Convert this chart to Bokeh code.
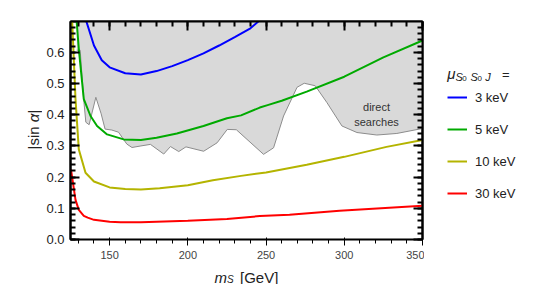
import math
from bokeh.plotting import figure
from bokeh.layouts import row, column
from bokeh.models import (Range1d, LinearAxis, SingleIntervalTicker, PrintfTickFormatter,
                          CustomJSTickFormatter, Legend, LegendItem, Label)
from bokeh.embed import file_html
from bokeh.resources import INLINE

# ---------------- data ----------------
ms_3kev = [134.6, 140, 145, 150, 160, 170, 180, 190, 200, 210, 220, 230, 240, 248]
sa_3kev = [0.708, 0.622, 0.575, 0.552, 0.533, 0.529, 0.540, 0.556, 0.575, 0.597, 0.622, 0.649, 0.677, 0.712]

ms_5kev = [128.8, 130.3, 133.5, 137.8, 142, 148.4, 159, 170, 180, 193, 210, 225, 234, 246, 251, 260, 276, 300, 325, 350]
sa_5kev = [0.708, 0.611, 0.45, 0.396, 0.364, 0.337, 0.321, 0.319, 0.326, 0.340, 0.364, 0.389, 0.398, 0.423, 0.431, 0.445, 0.474, 0.522, 0.584, 0.638]

ms_10kev = [126, 128.2, 130.3, 134.6, 140, 150, 160, 170, 182, 200, 216, 234, 250, 276, 300, 327, 350]
sa_10kev = [0.708, 0.45, 0.289, 0.214, 0.186, 0.167, 0.162, 0.160, 0.164, 0.174, 0.190, 0.204, 0.215, 0.240, 0.265, 0.297, 0.319]

ms_30kev = [125.3, 128.2, 130.3, 133.5, 136, 140, 145, 150, 157, 170, 200, 225, 246, 265, 297, 350]
sa_30kev = [0.225, 0.127, 0.095, 0.076, 0.070, 0.063, 0.060, 0.057, 0.055, 0.055, 0.060, 0.066, 0.075, 0.079, 0.092, 0.108]

# lower edge of the "direct searches" excluded region
ms_direct = [129.0, 129.0, 131.2, 133.3, 134.8, 136.9, 141.2, 144.6, 147.1, 151.4, 155.7, 161.0, 164.3,
             170.0, 176.1, 184.6, 188.9, 194.2, 198.8, 210.1, 218.7, 225.2, 231.0, 248.4, 254.8,
             261.2, 269.8, 274.4, 281.4, 288.9, 298.5, 308.1, 320.8, 333.6, 350.0]
sa_direct = [0.72, 0.607, 0.607, 0.456, 0.376, 0.368, 0.456, 0.403, 0.354, 0.351, 0.344, 0.306, 0.295,
             0.300, 0.305, 0.274, 0.298, 0.282, 0.297, 0.283, 0.310, 0.353, 0.352, 0.273, 0.294,
             0.396, 0.488, 0.501, 0.493, 0.439, 0.364, 0.343, 0.335, 0.340, 0.356]

labels = ["3 keV", "5 keV", "10 keV", "30 keV"]
colors = ["#0000ff", "#00aa00", "#b4b400", "#ff0000"]
series_x = [ms_3kev, ms_5kev, ms_10kev, ms_30kev]
series_y = [sa_3kev, sa_5kev, sa_10kev, sa_30kev]

X0, X1 = 125, 350
Y0, Y1 = 0.0, 0.699

FONT = "Liberation Sans"
TXT = "#222222"

# ---------------- page layout (pixels) ----------------
PAGE_W, PAGE_H = 548, 284
YL_W = 42           # strip holding the y-axis title
LEG_W = 124         # strip holding the legend
TOP_H = 261         # height of the upper row
XL_H = PAGE_H - TOP_H
FRAME_L, FRAME_R, FRAME_T, FRAME_B = 70, 422, 21, 239

P_W = PAGE_W - YL_W - LEG_W
ML = FRAME_L - YL_W
MR = P_W - (FRAME_R - YL_W)
MT = FRAME_T
MB = TOP_H - FRAME_B


def bare(w, h, xr, yr):
    f = figure(width=w, height=h, output_backend="svg", toolbar_location=None,
               x_range=Range1d(*xr), y_range=Range1d(*yr),
               min_border=0, outline_line_color=None, frame_align=False)
    f.axis.visible = False
    f.grid.visible = False
    return f


# ---------------- main plot ----------------
p = figure(width=P_W, height=TOP_H, output_backend="svg", toolbar_location=None,
           x_range=Range1d(X0, X1), y_range=Range1d(Y0, Y1),
           min_border_left=ML, min_border_right=MR, min_border_top=MT, min_border_bottom=MB,
           background_fill_color="white", border_fill_color="white", frame_align=False)
p.xgrid.visible = False
p.ygrid.visible = False
p.outline_line_color = "black"
p.outline_line_width = 2


def px(page_x):
    return X0 + (page_x - FRAME_L) * (X1 - X0) / (FRAME_R - FRAME_L)


def py(page_y):
    return Y0 + (FRAME_B - page_y) * (Y1 - Y0) / (FRAME_B - FRAME_T)


# shaded region
p.patch(ms_direct + [350.0, 350.0, 129.0], sa_direct + [0.75, 0.75, 0.75],
        fill_color="#d9d9d9", line_color=None)
p.line(ms_direct[1:], sa_direct[1:], line_color="#8c8c8c", line_width=1)

for xs, ys, c in zip(series_x, series_y, colors):
    p.line(xs, ys, line_color=c, line_width=2)

xt = SingleIntervalTicker(interval=50, num_minor_ticks=5)
yt = SingleIntervalTicker(interval=0.1, num_minor_ticks=5)
p.xaxis.ticker = xt
p.yaxis.ticker = yt
p.yaxis.formatter = PrintfTickFormatter(format="%.1f")

blank = CustomJSTickFormatter(code="return ''")
top_ax = LinearAxis(ticker=xt, formatter=blank, major_label_standoff=0)
right_ax = LinearAxis(ticker=yt, formatter=blank, major_label_standoff=0)
p.add_layout(top_ax, "above")
p.add_layout(right_ax, "right")

for ax in [p.xaxis[0], p.yaxis[0], top_ax, right_ax]:
    ax.axis_line_color = "black"
    ax.axis_line_width = 2
    ax.major_tick_line_color = "black"
    ax.major_tick_line_width = 2
    ax.minor_tick_line_color = "black"
    ax.minor_tick_line_width = 2
    ax.major_tick_in = 9
    ax.major_tick_out = 0
    ax.minor_tick_in = 5
    ax.minor_tick_out = 0
    ax.major_label_text_font = FONT
    ax.major_label_text_font_size = "13px"
    ax.major_label_text_color = TXT

p.xaxis[0].major_label_standoff = 6
p.yaxis[0].major_label_standoff = 6

p.add_layout(Label(x=px(376), y=py(106), text="direct", text_font=FONT, text_font_size="11px",
                   text_color="#333333", text_align="center", text_baseline="middle"))
p.add_layout(Label(x=px(376), y=py(121.5), text="searches", text_font=FONT, text_font_size="11px",
                   text_color="#333333", text_align="center", text_baseline="middle"))

# ---------------- y-axis title strip:  |sin α| ----------------
yl = bare(YL_W, TOP_H, (0, YL_W), (0, TOP_H))
cx = 33
anchor = 121.7          # page y where "α" begins (text runs upward)
yl.add_layout(Label(x=cx, y=TOP_H - (anchor + 4.2), text="|sin", angle=math.pi / 2,
                    text_font=FONT, text_font_size="15px", text_color=TXT,
                    text_align="right", text_baseline="middle"))
yl.add_layout(Label(x=cx, y=TOP_H - anchor, text="α", angle=math.pi / 2,
                    text_font=FONT, text_font_size="15px", text_font_style="italic", text_color=TXT,
                    text_align="left", text_baseline="middle"))
yl.add_layout(Label(x=cx, y=TOP_H - (anchor - 8.7), text="|", angle=math.pi / 2,
                    text_font=FONT, text_font_size="15px", text_color=TXT,
                    text_align="left", text_baseline="middle"))

# ---------------- legend strip ----------------
lg = bare(LEG_W, TOP_H, (0, LEG_W), (0, TOP_H))
lx = lambda page_x: page_x - (PAGE_W - LEG_W)
ly = lambda page_y: TOP_H - page_y
# legend proxies: same series, lying outside this strip's ranges (so only the legend shows them)
proxies = [lg.line(xs, ys, line_color=c, line_width=2)
           for xs, ys, c in zip(series_x, series_y, colors)]
legend = Legend(items=[LegendItem(label=l, renderers=[r]) for l, r in zip(labels, proxies)],
                location=(lx(447), ly(87 + 116)), orientation="vertical",
                glyph_width=20, glyph_height=20, label_height=20, spacing=12,
                padding=0, margin=0, label_standoff=8,
                border_line_color=None, background_fill_alpha=0,
                label_text_font=FONT, label_text_font_size="13px", label_text_color=TXT)
lg.add_layout(legend, "center")

title_parts = [  # text, page x, page baseline, size, style
    ("μ", 446.7, 72.5, "15px", "italic"),
    ("S", 455.0, 76.0, "11px", "italic"),
    ("0", 461.8, 78.3, "8px", "normal"),
    ("S", 470.0, 76.0, "11px", "italic"),
    ("0", 477.0, 78.3, "8px", "normal"),
    ("J", 484.8, 76.0, "11px", "italic"),
    ("=", 501.5, 73.5, "13px", "normal"),
]
for t, x_, y_, s_, st in title_parts:
    lg.add_layout(Label(x=lx(x_), y=ly(y_), text=t, text_font=FONT, text_font_size=s_,
                        text_font_style=st, text_color=TXT, text_baseline="alphabetic"))

# ---------------- x-axis title strip:  m_S [GeV] ----------------
xl = bare(PAGE_W, XL_H, (0, PAGE_W), (0, XL_H))
xy = lambda page_y: PAGE_H - page_y
xl.add_layout(Label(x=214, y=xy(276.5), text="m", text_font=FONT, text_font_size="15px",
                    text_font_style="italic", text_color=TXT, text_baseline="alphabetic"))
xl.add_layout(Label(x=226.5, y=xy(279), text="S", text_font=FONT, text_font_size="10px",
                    text_font_style="italic", text_color=TXT, text_baseline="alphabetic"))
xl.add_layout(Label(x=239.5, y=xy(276.5), text="[GeV]", text_font=FONT, text_font_size="15px",
                    text_color=TXT, text_baseline="alphabetic"))

page = column(row(yl, p, lg, spacing=0), xl, spacing=0)
open("out.html", "w").write(file_html(page, INLINE))
